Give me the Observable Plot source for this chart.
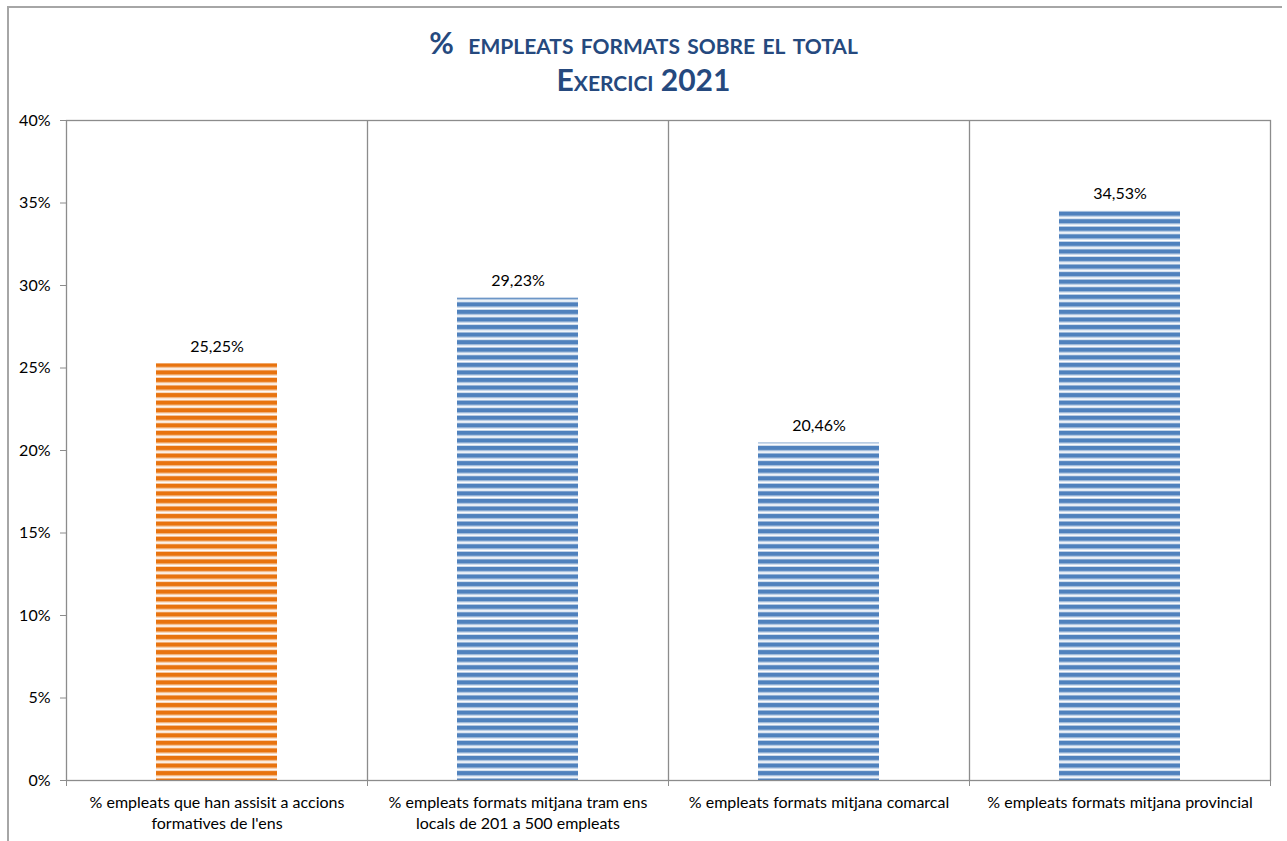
<!DOCTYPE html>
<html>
<head>
<meta charset="utf-8">
<script src="https://cdn.jsdelivr.net/npm/d3@7"></script>
<script src="https://cdn.jsdelivr.net/npm/@observablehq/plot@0.6"></script>
<style>
  body { margin: 0; background: #fff; font-family: Lato, "Open Sans", sans-serif; }
  #wrap { position: relative; width: 1287px; height: 841px; overflow: hidden; }
  #frame { position: absolute; left: 7px; top: 6px; width: 1275px; height: 840px;
           border-top: 2px solid #a6a6a6; border-left: 2px solid #a6a6a6; box-sizing: border-box; }
  #title { position: absolute; top: 24px; left: 0; width: 1287px; text-align: center;
           color: #25497e; font-weight: bold; font-variant: small-caps; font-size: 30px; line-height: 37px; }
  #chart { position: absolute; left: 0; top: 0; }
</style>
</head>
<body>
<div id="wrap">
  <div id="frame"></div>
  <div id="chart"></div>
  <div id="title"><div>% &nbsp;empleats formats sobre el total</div><div>Exercici 2021</div></div>
</div>
<script>
const categories = [
  "% empleats que han assisit a accions\nformatives de l'ens",
  "% empleats formats mitjana tram ens\nlocals de 201 a 500 empleats",
  "% empleats formats mitjana comarcal",
  "% empleats formats mitjana provincial"
];
const values = [25.25, 29.23, 20.46, 34.53];
const highlight = [true, false, false, false];
const yTicks = [0, 5, 10, 15, 20, 25, 30, 35, 40];
const xBoundaries = [0, 1, 2, 3, 4];

const data = categories.map((c, i) => ({ i, c, v: values[i], h: highlight[i] }));
const fmt = v => v.toFixed(2).replace(".", ",") + "%";

const plot = Plot.plot({
  width: 1287,
  height: 841,
  marginLeft: 66,
  marginRight: 17,
  marginTop: 120,
  marginBottom: 61,
  style: { fontFamily: "Lato, 'Open Sans', sans-serif", fontSize: "16px", color: "#000", background: "transparent" },
  x: { type: "linear", domain: [0, 4], axis: null },
  y: { domain: [0, 40], axis: null },
  marks: [
    Plot.rectY(data.filter(d => d.h), { x1: d => d.i, x2: d => d.i + 1, y: "v", insetLeft: 90, insetRight: 90, fill: "url(#stripe-orange)" }),
    Plot.rectY(data.filter(d => !d.h), { x1: d => d.i, x2: d => d.i + 1, y: "v", insetLeft: 90, insetRight: 90, fill: "url(#stripe-blue)" }),
    Plot.ruleX([1, 2, 3], { stroke: "#8c8c8c", strokeWidth: 1.3 }),
    Plot.frame({ stroke: "#8c8c8c", strokeWidth: 1.3 }),
    Plot.axisY({ ticks: yTicks, tickFormat: d => d + "%", tickSize: 6, tickPadding: 10, stroke: "#8c8c8c", fill: "#000", fontSize: 16, label: null }),
    Plot.axisX({ ticks: xBoundaries, tickFormat: () => "", tickSize: 6, stroke: "#8c8c8c", label: null }),
    Plot.text(data, { x: d => d.i + 0.5, y: "v", text: d => fmt(d.v), dy: -17, fontSize: 16, fill: "#000" }),
    Plot.text(data, { x: d => d.i + 0.5, y: 0, text: "c", dy: 13, lineAnchor: "top", lineHeight: 1.3, fontSize: 16, fill: "#000" })
  ]
});

// stripe patterns
const svg = d3.select(plot);
const defs = svg.insert("defs", ":first-child");
function stripe(id, color, light) {
  const p = defs.append("pattern").attr("id", id).attr("patternUnits", "userSpaceOnUse")
    .attr("width", 20).attr("height", 7.56);
  p.append("rect").attr("width", 20).attr("height", 7.56).attr("fill", "#fff");
  p.append("rect").attr("y", 0).attr("width", 20).attr("height", 4.4).attr("fill", color);
  p.append("rect").attr("y", 4.4).attr("width", 20).attr("height", 0.9).attr("fill", light);
  p.append("rect").attr("y", 6.8).attr("width", 20).attr("height", 0.76).attr("fill", light);
}
stripe("stripe-orange", "#e8730e", "#f6c9a4");
stripe("stripe-blue", "#4f81bd", "#bccfe6");

document.getElementById("chart").appendChild(plot);
</script>
</body>
</html>
